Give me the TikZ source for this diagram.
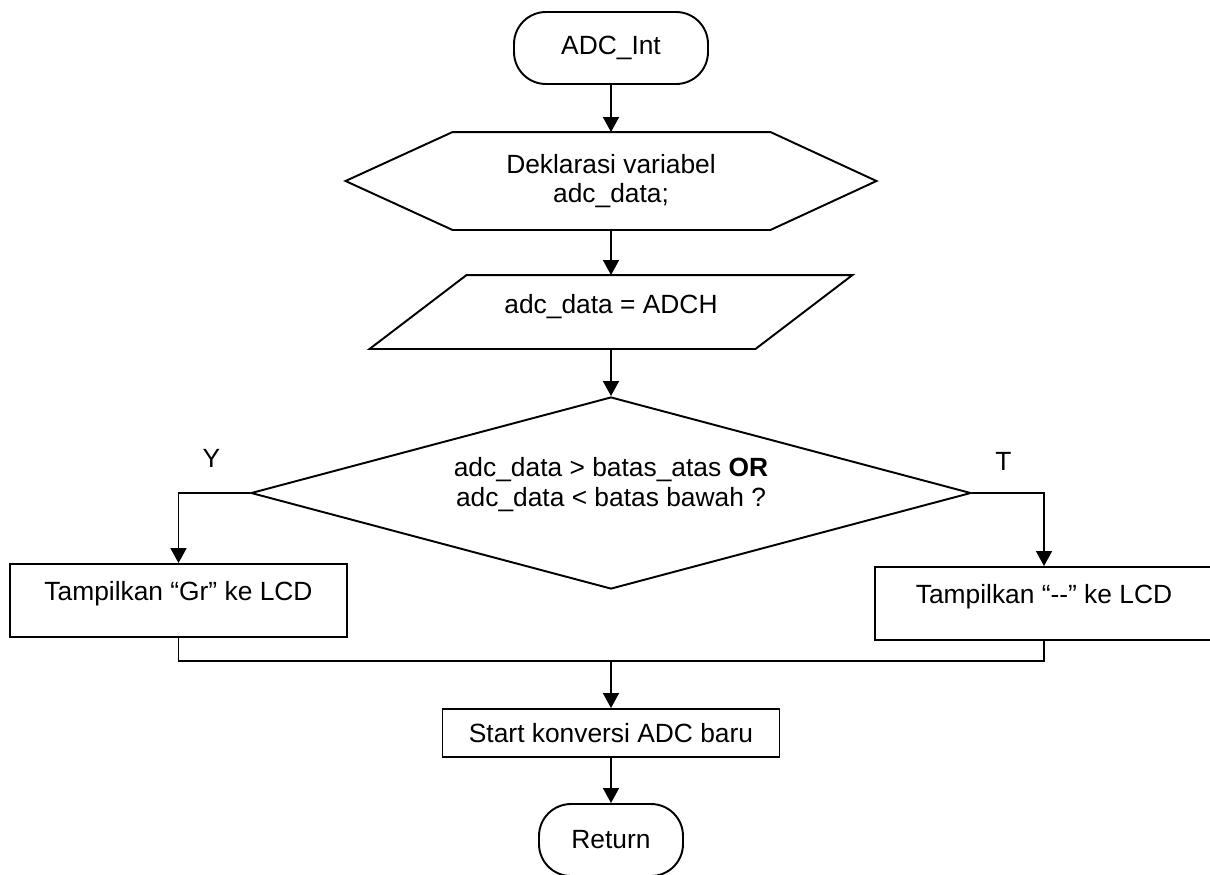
\documentclass[tikz,border=0pt]{standalone}
\usepackage{fontspec}
\setmainfont{Liberation Sans}
\usetikzlibrary{shapes.geometric,arrows.meta,calc}

\begin{document}
\begin{tikzpicture}[line width=1.1pt, font=\fontsize{15}{17}\selectfont,
	arr/.style={-{Triangle[width=9pt,length=8.5pt]}},
	term/.style={draw, rounded corners=0.64cm, minimum width=3.88cm, minimum height=1.44cm, inner sep=0pt},
	proc/.style={draw, minimum width=6.74cm, minimum height=1.46cm, inner sep=0pt, text depth=0.38cm}]
\useasboundingbox (0,0) rectangle (24.2,-17.48);
\node[term] (start) at (12.22,-0.96) {ADC\_Int};
\node[minimum width=10.58cm, minimum height=1.92cm, inner sep=0pt, align=center] (decl) at (12.22,-3.62) {Deklarasi variabel\\adc\_data;};
\draw (decl.west) -- ($(decl.north west)+(2.14,0)$) -- ($(decl.north east)-(2.12,0)$) -- (decl.east)
	-- ($(decl.south east)-(2.12,0)$) -- ($(decl.south west)+(2.14,0)$) -- cycle;
\node[minimum width=9.62cm, minimum height=1.44cm, inner sep=0pt, text depth=0.32cm] (inp) at (12.22,-6.24) {adc\_data = ADCH};
\draw (inp.south west) -- ($(inp.south east)-(1.94,0)$) -- (inp.north east) -- ($(inp.north west)+(1.94,0)$) -- cycle;
\node[draw, diamond, shape aspect=3.75, minimum width=14.4cm, minimum height=3.84cm, inner sep=0pt, align=center] (cond) at (12.22,-9.86)
	{adc\_data > batas\_atas \textbf{OR}\\adc\_data < batas bawah ?\rule[-0.44cm]{0pt}{0.44cm}};
\node (ylab) at (4.23,-9.16) {Y};
\node (tlab) at (20.07,-9.22) {T};
\node[proc] (yes) at (3.57,-12.01) {Tampilkan “Gr” ke LCD};
\node[proc, minimum width=6.76cm] (no) at (20.88,-12.07) {Tampilkan “-\kern0pt-” ke LCD};
\coordinate (join) at (12.22,-13.22);
\node[draw, minimum width=6.74cm, minimum height=0.96cm, inner sep=0pt] (conv) at (12.22,-14.66) {Start konversi ADC baru};
\node[term, minimum width=2.88cm] (ret) at (12.22,-16.8) {Return};
\draw[arr] (start) -- (decl);
\draw[arr] (decl) -- (inp);
\draw[arr] (inp) -- (cond);
\draw[arr] (cond.west) -| (yes.north);
\draw[arr] (cond.east) -| (no.north);
\draw (yes.south) |- (join) -| (no.south);
\draw[arr] (join) -- (conv);
\draw[arr] (conv) -- (ret);
\end{tikzpicture}
\end{document}
